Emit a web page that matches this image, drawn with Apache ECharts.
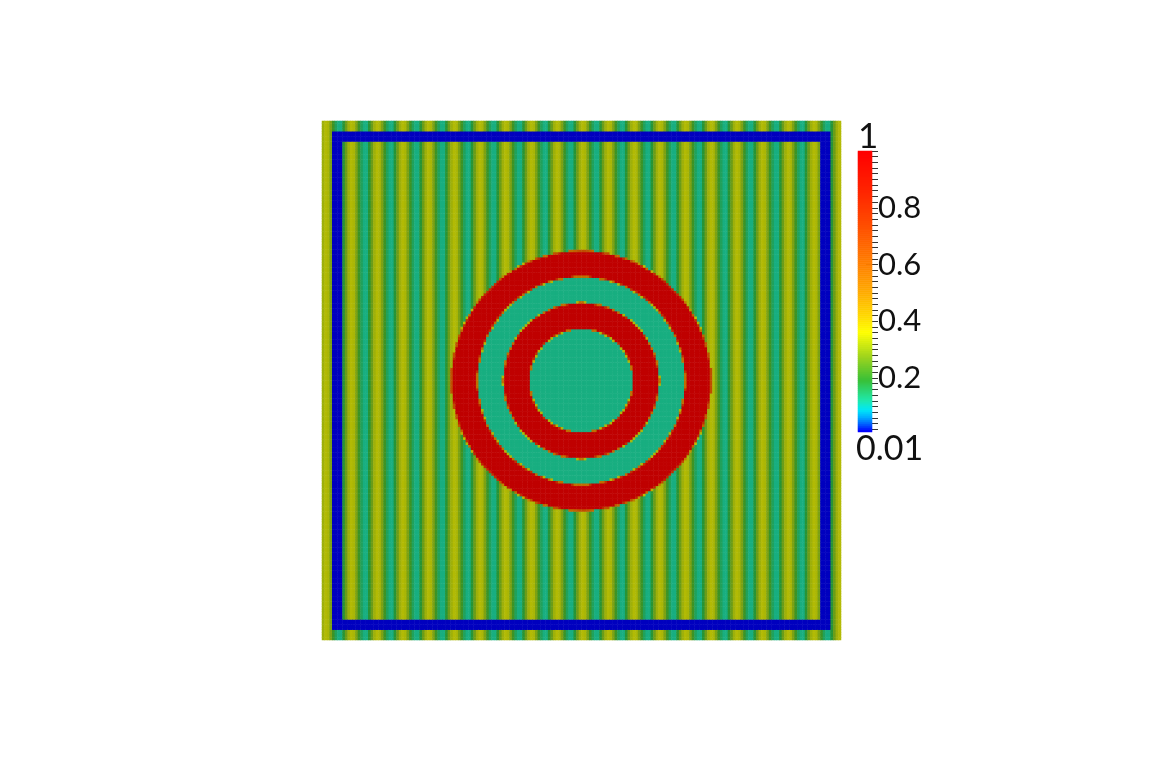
<!DOCTYPE html>
<html>
<head>
<meta charset="utf-8">
<script src="https://cdn.jsdelivr.net/npm/echarts@6.0.0/dist/echarts.min.js"></script>
<style>
  html, body { margin: 0; padding: 0; background: #fff; }
  #chart { width: 1163px; height: 761px; }
</style>
</head>
<body>
<div id="chart"></div>
<script>
  // values (fractions of the square domain)
  var gridCells = 202
  var stripeProfile = [0.32, 0.345, 0.335, 0.28, 0.21, 0.15, 0.12, 0.12, 0.18, 0.26] // one stripe period, 10 cells
  var ringRadii = [0.25, 0.2, 0.15, 0.1]
  var ringValues = [1, 0.12, 1, 0.12]
  var frameBand = [0.021, 0.040]
  var frameValue = 0.01
  var barRange = [0.01, 1]
  var tickLabels = [0.2, 0.4, 0.6, 0.8]

  // colour map
  var colorStops = [
    [0.01, '#0000ff'], [0.035, '#0060ff'], [0.06, '#00b0ff'], [0.085, '#00e8f8'],
    [0.12, '#20e8aa'], [0.19, '#38c038'], [0.27, '#9ad21e'], [0.36, '#ffff00'],
    [0.42, '#ffd800'], [0.5, '#ffac00'], [0.6, '#ff8000'], [0.72, '#ff5400'],
    [0.85, '#ff2800'], [1, '#ff0000']
  ]

  function hexRgb(h) {
    return [parseInt(h.substr(1, 2), 16), parseInt(h.substr(3, 2), 16), parseInt(h.substr(5, 2), 16)]
  }
  function buildColors(shade) {
    var out = []
    var n = 100
    for (var k = 0; k < n; k++) {
      var t = barRange[0] + (barRange[1] - barRange[0]) * k / (n - 1)
      var s = 0
      while (s < colorStops.length - 2 && t > colorStops[s + 1][0]) s++
      var a = colorStops[s], b = colorStops[s + 1]
      var f = Math.min(1, Math.max(0, (t - a[0]) / (b[0] - a[0])))
      var ca = hexRgb(a[1]), cb = hexRgb(b[1])
      var c = ca.map(function (x, q) { return Math.round((x + (cb[q] - x) * f) * shade) })
      out.push('rgb(' + c.join(',') + ')')
    }
    return out
  }

  function sampleField(u, v, col) {
    var r = Math.sqrt((u - 0.5) * (u - 0.5) + (v - 0.5) * (v - 0.5))
    for (var k = ringRadii.length - 1; k >= 0; k--) {
      if (r < ringRadii[k]) return ringValues[k]
    }
    var e = Math.min(u, 1 - u, v, 1 - v)
    if (e >= frameBand[0] && e < frameBand[1]) return frameValue
    return stripeProfile[col % stripeProfile.length]
  }

  var cellIds = []
  for (var i = 0; i < gridCells; i++) cellIds.push(i)

  var fieldData = []
  for (var i = 0; i < gridCells; i++) {
    for (var j = 0; j < gridCells; j++) {
      var sum = 0
      for (var a = 0; a < 2; a++) {
        for (var b = 0; b < 2; b++) {
          sum += sampleField((i + (a + 0.5) / 2) / gridCells, (j + (b + 0.5) / 2) / gridCells, i)
        }
      }
      fieldData.push([i, j, sum / 4])
    }
  }

  // colour bar cells
  var barSteps = []
  var barData = []
  for (var k = 0; k < 141; k++) {
    var val = barRange[0] + (barRange[1] - barRange[0]) * k / 140
    barSteps.push(k)
    barData.push([0, k, val])
  }
  var allTicks = []
  for (var k = 1; k <= 50; k++) allTicks.push(+(k * 0.02).toFixed(2))

  var chart = echarts.init(document.getElementById('chart'))
  var labelFont = 'Lato, "Open Sans", sans-serif'
  chart.setOption({
    animation: false,
    backgroundColor: '#fff',
    grid: [
      { left: 322, top: 121, width: 519, height: 519 },
      { left: 858, top: 151, width: 14, height: 281 }
    ],
    xAxis: [
      { type: 'category', gridIndex: 0, data: cellIds, show: false },
      { type: 'category', gridIndex: 1, data: [''], show: false }
    ],
    yAxis: [
      { type: 'category', gridIndex: 0, data: cellIds, show: false },
      { type: 'category', gridIndex: 1, data: barSteps, show: false },
      {
        type: 'value', gridIndex: 1, min: barRange[0], max: barRange[1], position: 'right',
        axisLine: { show: false }, splitLine: { show: false },
        axisTick: { show: true, customValues: allTicks, length: 6, lineStyle: { color: '#333', width: 1 } },
        axisLabel: {
          customValues: tickLabels, margin: 6, fontSize: 31, color: '#111',
          fontFamily: labelFont, formatter: function (v) { return String(v) }
        }
      },
      {
        type: 'value', gridIndex: 1, min: barRange[0], max: barRange[1], position: 'right',
        axisLine: { show: false }, splitLine: { show: false }, axisLabel: { show: false },
        axisTick: { show: true, inside: true, customValues: tickLabels, length: 6, lineStyle: { color: '#333', width: 1 } }
      }
    ],
    visualMap: [
      { show: false, seriesIndex: 0, min: barRange[0], max: barRange[1], inRange: { color: buildColors(0.75) } },
      { show: false, seriesIndex: 1, min: barRange[0], max: barRange[1], inRange: { color: buildColors(1) } }
    ],
    graphic: [
      { type: 'text', left: 858, top: 119, style: { text: '1', fontSize: 35, fill: '#111', fontFamily: labelFont } },
      { type: 'text', left: 856, top: 432, style: { text: '0.01', fontSize: 34, fill: '#111', fontFamily: labelFont } }
    ],
    series: [
      {
        type: 'heatmap', xAxisIndex: 0, yAxisIndex: 0, data: fieldData,
        progressive: 0, emphasis: { disabled: true }, silent: true
      },
      {
        type: 'heatmap', xAxisIndex: 1, yAxisIndex: 1, data: barData,
        progressive: 0, emphasis: { disabled: true }, silent: true
      }
    ]
  })
</script>
</body>
</html>
